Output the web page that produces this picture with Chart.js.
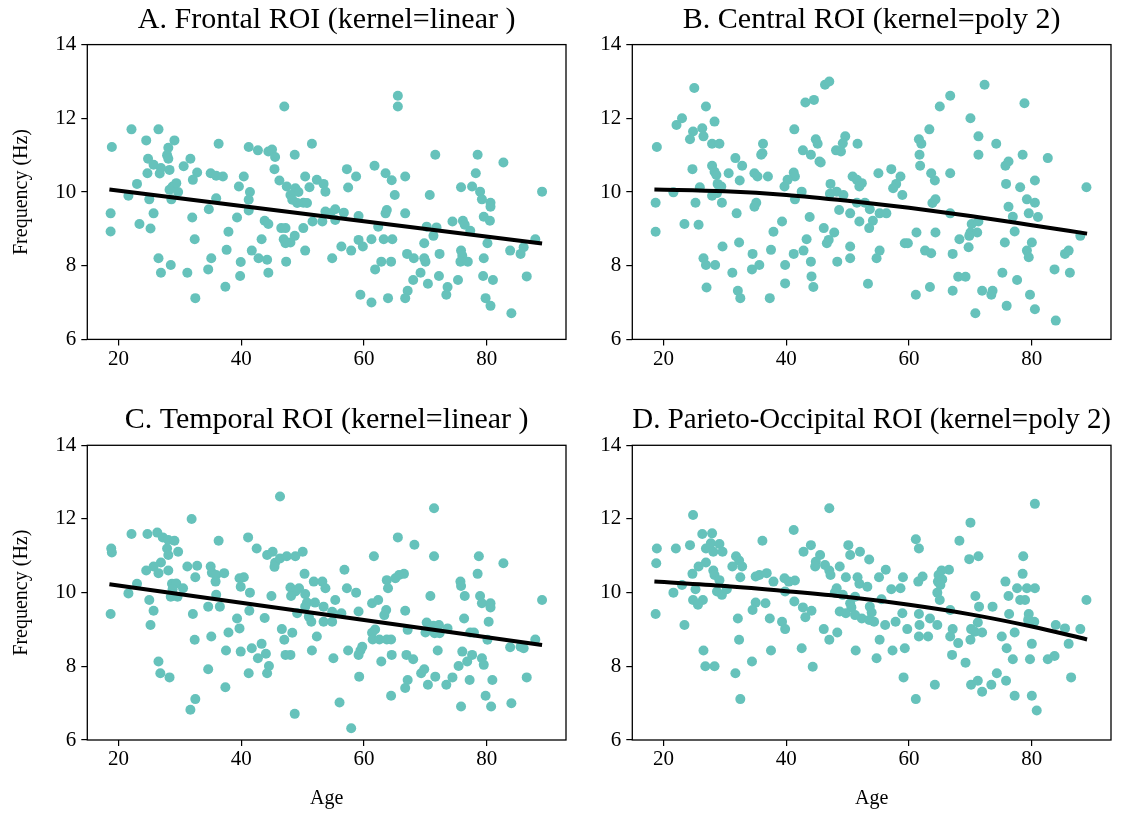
<!DOCTYPE html>
<html><head><meta charset="utf-8">
<script src="https://cdn.jsdelivr.net/npm/chart.js@4.4.0/dist/chart.umd.min.js"></script>
<style>
html,body{margin:0;padding:0;background:#fff;}
#wrap{position:relative;width:1123px;height:815px;overflow:hidden;background:#fff;}
canvas{position:absolute;}
</style></head><body>
<div id="wrap">
<canvas id="cA"></canvas><canvas id="cB"></canvas><canvas id="cC"></canvas><canvas id="cD"></canvas>
</div>
<script>
// ---------- data ----------
const panelTitles = ["A. Frontal ROI (kernel=linear )", "B. Central ROI (kernel=poly 2)", "C. Temporal ROI (kernel=linear )", "D. Parieto-Occipital ROI (kernel=poly 2)"];
const xTicks = [20, 40, 60, 80];
const yTicks = [6, 8, 10, 12, 14];
const xLabel = "Age";
const yLabel = "Frequency (Hz)";

const frontalAge = [
22.1,26.5,18.9,24.5,29.1,28.1,27.9,24.8,28.1,25.7,
26.9,28.3,31.7,30.6,36.3,24.7,26.7,32.8,32.1,35.0,
35.9,37.0,23.0,21.6,25.0,28.6,28.8,29.4,28.3,29.7,
18.7,18.7,25.7,23.4,25.2,32.0,35.9,34.7,32.4,37.9,
39.3,39.6,26.5,28.5,26.9,31.2,35.1,34.6,37.6,37.4,
32.5,39.8,39.9,
47.0,41.2,42.7,44.4,45.0,45.5,48.7,51.5,45.4,40.4,
41.4,46.2,47.4,48.8,49.3,48.0,50.4,51.1,52.3,53.4,
53.7,50.1,49.1,48.3,50.7,41.2,41.2,57.2,58.7,57.4,
61.7,63.5,43.8,44.4,46.5,47.2,48.7,46.9,48.0,47.2,
43.3,51.6,50.1,53.7,54.5,55.3,55.3,56.7,53.2,59.1,
62.3,63.7,63.5,63.2,61.2,59.1,59.8,57.9,56.3,54.8,
50.4,41.7,42.8,44.2,44.4,47.3,61.8,62.8,59.4,61.2,
63.9,
65.5,65.5,71.6,78.5,82.7,89.0,64.5,66.7,65.0,66.7,
70.7,75.8,77.6,78.2,78.9,79.2,80.6,80.6,79.5,80.5,
74.4,76.1,76.4,77.3,70.2,71.8,71.3,69.8,64.6,64.4,
67.0,68.1,69.8,70.0,72.3,75.8,76.0,75.7,76.9,79.5,
80.1,83.8,85.5,86.0,87.9,69.2,68.0,67.1,66.7,70.4,
72.2,73.6,73.4,75.3,79.4,81.0,79.8,80.6,84.0,86.5];
const frontalFreq = [
11.7,11.7,11.22,11.4,11.4,11.2,11.0,10.9,10.9,10.74,
10.65,10.6,10.9,10.7,11.31,10.51,10.5,10.53,10.33,10.51,
10.44,10.42,10.22,9.9,9.8,9.8,10.15,10.24,10.06,10.0,
9.42,8.93,9.42,9.13,9.01,9.31,9.83,9.53,8.72,8.92,
9.31,10.15,8.2,8.02,7.81,7.81,8.2,7.9,8.43,7.43,
7.12,7.72,8.1,
12.32,11.22,11.13,11.1,11.15,10.95,11.01,11.31,10.62,10.42,
10.0,10.31,10.15,10.1,10.0,9.92,10.42,10.13,10.33,10.22,
10.01,9.71,9.7,9.79,9.7,9.79,9.5,10.62,10.42,10.12,
10.71,10.51,9.22,9.13,9.02,9.02,8.81,8.72,8.63,8.61,
8.72,9.2,9.02,9.47,9.42,9.53,9.24,9.44,9.2,9.35,
9.06,9.51,9.42,8.72,8.72,8.7,8.52,8.41,8.52,8.2,
8.41,8.41,8.2,8.16,7.81,8.11,7.9,8.11,7.21,7.0,
7.12,
12.61,12.32,11.01,11.01,10.8,10.01,10.32,10.42,9.92,9.42,
9.92,10.13,10.15,10.51,10.01,9.8,9.71,9.6,9.33,9.22,
9.2,9.22,9.11,8.95,9.06,9.04,8.81,8.61,8.72,8.11,
8.32,8.2,8.2,8.11,8.32,8.41,8.27,8.11,8.11,8.2,
8.61,8.41,8.32,8.5,8.72,7.81,7.61,7.32,7.12,7.51,
7.72,7.42,7.21,7.61,7.72,7.61,7.12,6.91,6.71,7.71];
const frontalFitAge = [18.5, 89];
const frontalFitFreq = [10.07, 8.6];

const centralAge = [
25.0,26.9,23.0,22.1,28.3,24.8,26.3,26.5,24.3,27.9,
29.1,18.9,36.2,36.1,35.9,31.7,32.8,27.9,28.3,28.6,
24.7,30.6,32.4,34.8,35.3,37.0,28.8,29.4,25.9,21.6,
28.7,27.9,18.7,25.2,29.5,35.1,34.8,31.9,39.7,39.3,
37.9,18.7,23.4,25.7,29.6,32.3,26.5,26.9,28.4,31.2,
34.5,34.4,35.6,37.5,27.0,32.1,32.5,37.3,39.8,39.8,
46.3,47.0,43.1,44.5,41.3,44.8,45.1,49.6,49.2,51.6,
48.1,48.9,42.7,44.0,45.4,45.6,63.3,61.6,62.0,61.7,
61.8,55.0,57.1,58.6,57.9,57.4,58.9,63.6,64.2,41.2,
41.4,40.2,42.5,41.4,47.2,47.1,48.2,49.3,50.8,51.5,
52.3,51.9,52.8,51.5,48.6,50.4,51.9,53.6,55.2,56.3,
54.1,53.5,63.8,64.3,43.8,46.1,47.8,46.9,46.6,43.3,
42.8,41.2,44.0,44.1,44.4,48.3,50.4,50.4,53.3,55.2,
54.7,59.3,59.8,61.2,62.6,63.6,64.3,61.1,63.4,
72.3,66.7,65.0,78.8,70.0,71.3,74.2,71.3,75.7,76.2,
78.5,82.6,66.7,88.9,75.8,78.1,80.5,79.2,80.5,76.2,
76.9,79.5,81.0,66.7,70.2,71.3,70.0,71.1,69.8,68.2,
69.7,67.1,77.2,75.6,80.0,79.2,79.5,85.4,86.0,87.9,
83.7,86.2,68.0,69.2,67.1,71.9,73.4,73.6,75.2,77.6,
75.9,70.8,79.7,80.5,83.9];
const centralFreq = [
12.82,12.32,12.0,11.82,11.91,11.64,11.73,11.51,11.43,11.31,
11.31,11.22,11.31,11.05,11.01,10.92,10.71,10.71,10.55,10.46,
10.62,10.51,10.31,10.51,10.42,10.42,10.22,10.15,10.13,9.99,
9.97,9.9,9.71,9.71,9.71,9.71,9.6,9.42,10.15,9.2,
8.92,8.92,9.13,9.11,8.52,8.63,8.2,8.02,8.02,7.81,
8.32,7.9,8.02,8.43,7.41,7.32,7.12,7.12,8.02,7.52,
12.91,13.0,12.43,12.5,11.7,11.43,11.31,11.51,11.32,11.31,
11.13,11.1,11.13,11.01,10.83,10.8,11.7,11.43,11.31,11.01,
10.71,10.51,10.62,10.42,10.22,10.1,9.92,10.51,10.31,10.53,
10.42,10.33,10.01,9.8,10.22,9.95,10.01,9.92,10.42,10.33,
10.24,10.15,9.71,9.71,9.51,9.42,9.2,9.53,9.42,9.42,
9.22,9.02,9.7,9.8,9.32,9.02,8.9,8.7,8.61,8.72,
8.41,8.32,8.11,7.71,7.42,8.11,8.52,8.2,7.51,8.41,
8.2,8.61,8.61,8.9,8.41,8.34,8.9,7.21,7.42,
12.91,12.61,12.32,12.41,12.0,11.51,11.31,11.01,10.71,10.83,
11.01,10.92,10.51,10.13,10.22,10.13,10.31,9.8,9.71,9.6,
9.33,9.42,9.32,9.42,9.13,9.2,8.9,8.9,8.81,8.72,
8.5,8.32,8.93,8.63,8.63,8.41,8.23,8.32,8.41,8.81,
7.9,7.81,7.7,7.7,7.32,7.32,7.21,7.32,7.81,7.61,
6.91,6.71,7.21,6.82,6.51];
const centralFitAge = [18.5, 30, 40, 50, 60, 70, 80, 89];
const centralFitFreq = [10.07, 10.02, 9.92, 9.76, 9.57, 9.35, 9.1, 8.87];

const temporalAge = [
31.9,22.1,24.7,26.3,27.2,28.1,29.1,36.3,18.8,18.9,
27.9,28.1,29.7,26.9,25.7,24.5,26.5,28.1,31.2,32.8,
32.5,35.0,35.2,35.9,37.2,35.8,23.0,21.6,28.7,29.4,
30.5,28.8,28.5,29.6,25.0,25.7,25.2,18.7,32.1,35.9,
34.6,36.5,39.7,39.9,39.3,39.7,32.4,35.1,37.9,37.5,
26.5,26.8,28.3,34.6,37.4,32.5,31.7,39.9,
46.3,41.1,42.5,44.2,45.1,45.5,45.4,46.3,47.4,48.8,
50.0,61.6,40.4,41.4,44.9,48.0,48.8,49.4,50.4,50.3,
51.8,53.2,53.7,56.8,57.2,58.7,48.1,50.7,52.0,50.4,
53.4,55.3,49.1,51.0,51.4,53.4,54.8,54.8,56.3,59.1,
61.3,62.3,63.7,63.9,63.6,63.3,41.3,43.8,46.6,48.3,
47.0,52.3,41.7,43.3,44.0,42.7,47.2,48.0,51.5,55.0,
57.4,59.4,59.7,59.1,61.3,61.8,61.4,62.5,63.7,64.4,
62.8,64.5,44.5,44.2,41.2,59.2,56.0,48.7,57.9,64.4,
71.4,65.5,68.2,71.4,78.7,82.7,78.5,66.5,65.7,65.1,
75.7,75.8,76.4,70.8,78.9,79.2,80.6,80.6,89.0,66.7,
76.3,80.3,70.2,71.3,72.2,70.0,71.5,72.3,73.6,77.3,
77.9,80.1,67.1,66.9,68.0,72.0,76.0,77.6,76.8,75.4,
79.2,79.5,83.8,85.5,86.0,87.9,69.3,69.8,67.1,66.7,
70.4,71.6,73.4,74.4,77.2,80.9,86.5,75.8,79.8,80.7,
84.0];
const temporalFreq = [
12.0,11.59,11.59,11.63,11.5,11.43,11.41,11.41,11.2,11.09,
11.2,11.02,11.11,10.82,10.71,10.6,10.53,10.6,10.71,10.73,
10.42,10.71,10.54,10.48,10.53,10.3,10.24,9.98,10.24,10.25,
10.12,10.09,9.89,9.89,9.8,9.51,9.12,9.42,9.42,9.94,
9.62,9.62,10.39,10.16,9.3,9.03,8.72,8.81,8.92,8.43,
8.13,7.81,7.7,7.92,7.43,7.11,6.82,8.4,
12.61,11.5,11.2,11.02,11.11,10.81,10.7,10.93,10.99,10.99,
11.11,10.99,10.42,10.0,9.91,10.14,10.03,10.12,9.96,10.51,
10.3,10.3,10.12,10.62,10.12,10.0,9.91,9.73,9.73,9.62,
9.62,9.8,9.44,9.35,9.21,9.21,9.21,9.48,9.44,9.49,
9.71,9.8,10.34,10.12,9.53,9.39,9.51,9.31,9.01,8.91,
8.72,8.81,8.49,8.61,8.34,8.22,8.31,8.31,8.43,8.22,
8.43,8.43,8.53,8.31,8.91,9.0,8.73,8.73,8.73,8.73,
8.13,8.31,8.01,7.81,7.81,7.72,7.02,6.71,6.32,7.2,
12.29,11.5,11.3,10.99,10.99,10.8,10.51,10.51,10.48,10.39,
10.3,10.18,9.91,9.91,9.91,9.71,9.71,9.6,9.8,9.51,
9.3,9.21,9.19,9.1,9.12,8.92,8.9,8.9,9.03,8.92,
8.92,8.72,8.99,8.31,8.19,8.43,8.4,8.31,8.13,8.01,
8.22,8.04,8.52,8.53,8.49,8.73,7.81,7.92,7.63,7.41,
7.5,7.72,7.5,7.7,7.63,7.63,7.7,6.91,7.2,6.91,
7.0];
const temporalFitAge = [18.5, 89];
const temporalFitFreq = [10.23, 8.58];

const parietoAge = [
24.8,26.3,27.9,24.3,22.0,18.9,18.8,26.9,27.7,28.1,
29.1,29.6,36.1,31.8,32.3,32.8,31.2,26.9,25.7,28.1,
24.7,28.3,29.1,32.5,35.0,35.6,36.8,37.9,23.0,25.2,
21.6,28.7,29.5,30.3,24.8,26.4,25.6,18.7,23.4,35.0,
36.6,34.5,32.1,37.3,39.3,39.8,32.3,26.5,26.8,28.3,
31.7,34.4,37.5,32.5,39.7,39.8,
47.0,41.2,42.8,44.0,45.5,44.8,44.7,46.3,47.0,47.2,
48.7,50.1,50.4,52.0,53.5,61.1,61.6,56.2,55.1,59.0,
61.5,62.2,40.4,41.4,41.3,42.7,44.1,43.1,49.7,51.6,
51.9,53.2,48.2,47.9,49.2,51.2,55.5,57.1,58.6,50.4,
50.6,48.7,49.7,51.2,52.3,53.6,53.9,53.5,54.3,58.9,
57.8,56.1,61.6,61.7,63.4,59.7,61.6,63.1,64.6,46.1,
47.0,48.3,55.2,42.5,51.3,54.7,57.3,59.3,44.3,59.1,
61.1,64.2,
80.5,70.0,68.2,69.8,71.3,78.6,78.5,66.5,65.3,64.8,
65.4,64.7,65.1,64.6,65.0,75.7,77.6,79.2,80.5,76.2,
78.1,78.9,70.8,88.9,73.6,71.4,66.7,76.3,79.5,79.4,
80.4,83.9,85.4,87.9,71.2,67.1,66.7,68.0,70.1,70.7,
71.9,70.0,75.1,77.2,75.9,80.0,86.0,67.0,69.2,76.9,
79.7,82.6,83.7,70.1,71.2,71.9,73.4,74.3,75.8,77.2,
80.0,80.8,86.4];
const parietoFreq = [
12.11,11.59,11.61,11.29,11.2,11.2,10.8,11.2,11.34,11.11,
11.32,11.11,11.41,10.99,10.87,10.71,10.71,10.82,10.71,10.6,
10.51,10.48,10.34,10.42,10.44,10.48,10.53,10.3,10.21,10.09,
10.0,10.03,9.94,10.09,9.8,9.8,9.67,9.42,9.12,9.73,
9.71,9.53,9.3,9.3,9.21,9.01,8.72,8.43,8.0,8.0,
7.81,8.13,8.43,7.11,10.39,10.03,
12.29,11.7,11.11,11.29,11.02,10.84,10.71,10.75,10.6,10.48,
10.71,11.29,11.02,11.11,10.9,11.45,11.2,10.62,10.42,10.42,
10.3,10.44,10.3,10.33,9.76,9.6,9.51,9.33,10.42,10.42,
10.24,10.16,10.12,10.0,9.94,9.89,9.82,10.09,10.12,9.71,
9.6,9.49,9.44,9.39,9.3,9.62,9.46,9.26,9.21,9.44,
9.21,9.12,9.42,9.12,9.3,9.01,8.81,8.81,9.12,9.01,
8.72,8.92,8.72,8.49,8.43,8.22,8.43,8.49,7.99,7.7,
7.11,7.5,
12.41,11.9,11.41,10.91,10.99,10.99,10.51,10.62,10.6,10.48,
10.36,10.3,10.21,10.0,9.8,10.3,10.12,10.12,10.12,9.91,
9.8,9.8,9.91,9.8,9.62,9.62,9.53,9.42,9.42,9.26,
9.21,9.12,9.03,9.01,9.19,9.01,8.81,8.63,9.01,8.94,
8.92,8.72,8.81,8.92,8.49,8.61,8.61,8.31,8.1,8.19,
8.19,8.19,8.28,7.5,7.61,7.31,7.5,7.81,7.61,7.2,
7.2,6.8,7.7];
const parietoFitAge = [18.5, 30, 40, 50, 60, 70, 80, 89];
const parietoFitFreq = [10.3, 10.18, 10.04, 9.88, 9.67, 9.41, 9.08, 8.73];

// ---------- styling ----------
const FONT = "'Liberation Serif','Times New Roman',serif";
const POINT_COLOR = 'rgb(102,194,187)';
const X_MIN = 14.9, X_MAX = 92.9, Y_MIN = 6, Y_MAX = 14;

const framePlugin = {
  id: 'frame',
  afterDatasetsDraw(chart) {
    const { ctx, chartArea: a } = chart;
    ctx.save();
    ctx.strokeStyle = '#000';
    ctx.lineWidth = 1.3;
    ctx.strokeRect(a.left, a.top, a.right - a.left, a.bottom - a.top);
    ctx.restore();
  }
};

function pts(xs, ys) { return xs.map((x, i) => ({ x: x, y: ys[i] })); }

function panel(id, box, title, ages, freqs, fitAges, fitFreqs, opt) {
  const c = document.getElementById(id);
  c.width = box.w; c.height = box.h;
  c.style.left = box.x + 'px'; c.style.top = box.y + 'px';
  c.style.width = box.w + 'px'; c.style.height = box.h + 'px';
  new Chart(c, {
    type: 'scatter',
    data: {
      datasets: [
        { data: pts(fitAges, fitFreqs), showLine: true, borderColor: '#000', borderWidth: 4,
          pointRadius: 0, pointHoverRadius: 0, fill: false,
          tension: opt.curve ? 0.4 : 0, cubicInterpolationMode: opt.curve ? 'monotone' : 'default', order: 0 },
        { data: pts(ages, freqs), backgroundColor: POINT_COLOR, borderWidth: 0,
          pointRadius: 5, pointHoverRadius: 5, order: 1 }
      ]
    },
    options: {
      responsive: false, animation: false, devicePixelRatio: 1,
      events: [],
      layout: { padding: { left: 0, right: box.padR, top: 0, bottom: 0 } },
      plugins: {
        legend: { display: false }, tooltip: { enabled: false },
        title: { display: true, text: title, fullSize: false, color: '#000',
          font: { family: FONT, size: 30, weight: 'normal' },
          padding: { top: box.tt, bottom: box.tb } }
      },
      scales: {
        x: {
          type: 'linear', min: X_MIN, max: X_MAX,
          afterBuildTicks: s => { s.ticks = xTicks.map(v => ({ value: v })); },
          afterFit: s => { s.height = box.xh; },
          grid: { display: true, drawOnChartArea: false, drawTicks: true, tickLength: 6, color: '#000', lineWidth: 1.2 },
          border: { display: false },
          ticks: { color: '#000', font: { family: FONT, size: 21 }, padding: 1, maxRotation: 0 },
          title: { display: !!opt.xTitle, text: opt.xTitle || '', color: '#000',
            font: { family: FONT, size: 20 }, padding: { top: 2, bottom: 4 } }
        },
        y: {
          type: 'linear', min: Y_MIN, max: Y_MAX,
          afterBuildTicks: s => { s.ticks = yTicks.map(v => ({ value: v })); },
          afterFit: s => { s.width = box.yw; },
          grid: { display: true, drawOnChartArea: false, drawTicks: true, tickLength: 6, color: '#000', lineWidth: 1.2 },
          border: { display: false },
          ticks: { color: '#000', font: { family: FONT, size: 21 }, padding: 5 },
          title: { display: !!opt.yTitle, text: opt.yTitle || '', color: '#000',
            font: { family: FONT, size: 20 }, padding: { top: 10, bottom: 0 } }
        }
      }
    },
    plugins: [framePlugin]
  });
}

panel('cA', { x: 0, y: 0, w: 572, h: 380, padR: 6, yw: 87.3, xh: 40.6, tt: 2.6, tb: 6.0 },
  panelTitles[0], frontalAge, frontalFreq, frontalFitAge, frontalFitFreq, { yTitle: yLabel });
panel('cB', { x: 572, y: 0, w: 551, h: 380, padR: 12, yw: 60.3, xh: 40.6, tt: 2.6, tb: 6.0 },
  panelTitles[1], centralAge, centralFreq, centralFitAge, centralFitFreq, { curve: true });
panel('cC', { x: 0, y: 400, w: 572, h: 415, padR: 6, yw: 87.3, xh: 75, tt: 2.6, tb: 6.7 },
  panelTitles[2], temporalAge, temporalFreq, temporalFitAge, temporalFitFreq, { yTitle: yLabel, xTitle: xLabel });
panel('cD', { x: 572, y: 400, w: 551, h: 415, padR: 12, yw: 60.3, xh: 75, tt: 2.6, tb: 6.7 },
  panelTitles[3], parietoAge, parietoFreq, parietoFitAge, parietoFitFreq, { curve: true, xTitle: xLabel });
</script>
</body></html>
